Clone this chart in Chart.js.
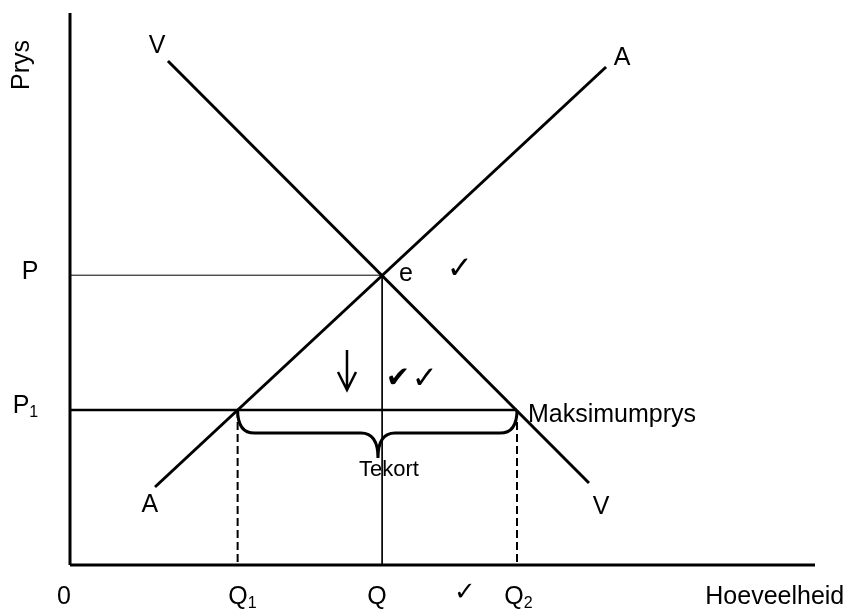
<!DOCTYPE html>
<html>
<head>
<meta charset="utf-8">
<script src="https://cdn.jsdelivr.net/npm/chart.js@4/dist/chart.umd.min.js"></script>
<style>
  body { margin: 0; background: #fff; }
  canvas { display: block; }
</style>
</head>
<body>
<canvas id="chart" width="851" height="609"></canvas>
<script>
// curves (quantity, price)
const demandX = [13.15, 69.66];
const demandY = [91.3, 14.86];
const supplyX = [11.41, 71.95];
const supplyY = [14.13, 90.22];

// equilibrium and price ceiling
const qEq = 41.9;
const pEq = 52.5;
const pMax = 28.1;
const q1 = 22.5;
const q2 = 60;

// shortage brace: top, middle, tip (price) and tip quantity
const braceY = [28.1, 23.9, 19.4];
const braceTip = 41.34;

// tick labels [text, subscript, position]
const xTickLabels = [['0', '', -0.8], ['Q', '1', 22.55], ['Q', '', 41.2], ['\u2713', '', 53.0], ['Q', '2', 59.6], ['Hoeveelheid', '', 94.6]];
const yTickLabels = [['P', '', 53.1], ['P', '1', 28.8]];

// curve labels [text, x, y]
const curveLabels = [['V', 11.7, 94.0], ['A', 74.1, 91.8], ['A', 10.7, 10.9], ['V', 71.3, 10.5], ['e', 45.1, 52.7]];

const FONT = '"Liberation Sans", Arial, sans-serif';
const SYM = '"DejaVu Sans", sans-serif';

const seg = (xs, ys) => xs.map((x, i) => ({x: x, y: ys[i]}));
const lineSet = (data, width, dash) => ({
    data: data,
    showLine: true,
    borderColor: '#000',
    borderWidth: width,
    borderDash: dash || [],
    pointRadius: 0,
    clip: false
});

const labelPlugin = {
    id: 'labels',
    afterDatasetsDraw(chart) {
        const ctx = chart.ctx;
        const xs = chart.scales.x, ys = chart.scales.y;
        const px = v => xs.getPixelForValue(v);
        const py = v => ys.getPixelForValue(v);
        ctx.save();
        ctx.fillStyle = '#000';
        ctx.strokeStyle = '#000';

        // brace under the shortage
        const x1 = px(q1), x2 = px(q2), xt = px(braceTip);
        const yT = py(braceY[0]), yM = py(braceY[1]), yB = py(braceY[2]);
        const r = 17;
        ctx.lineWidth = 3;
        ctx.beginPath();
        ctx.moveTo(x1, yT);
        ctx.quadraticCurveTo(x1, yM, x1 + r, yM);
        ctx.lineTo(xt - r, yM);
        ctx.quadraticCurveTo(xt, yM, xt, yB);
        ctx.quadraticCurveTo(xt, yM, xt + r, yM);
        ctx.lineTo(x2 - r, yM);
        ctx.quadraticCurveTo(x2, yM, x2, yT);
        ctx.stroke();

        // downward arrow
        const ax = px(37.18), aTop = py(38.95), aBot = py(31.7);
        ctx.lineWidth = 2.5;
        ctx.beginPath();
        ctx.moveTo(ax, aTop);
        ctx.lineTo(ax, aBot);
        ctx.moveTo(ax - 9, aBot - 18);
        ctx.lineTo(ax, aBot);
        ctx.lineTo(ax + 9, aBot - 18);
        ctx.stroke();

        ctx.textAlign = 'center';
        ctx.textBaseline = 'middle';
        const sub = (t, s, x, y, size, family) => {
            ctx.font = size + 'px ' + (family || FONT);
            ctx.textAlign = 'center';
            ctx.fillText(t, x, y);
            if (s) {
                const w = ctx.measureText(t).width;
                ctx.font = Math.round(size * 0.62) + 'px ' + FONT;
                ctx.textAlign = 'left';
                ctx.fillText(s, x + w / 2, y + 7);
            }
        };
        xTickLabels.forEach(l => l[0] === '\u2713'
            ? sub(l[0], '', px(l[2]), 593, 26, SYM)
            : sub(l[0], l[1], px(l[2]), 597, 25));
        yTickLabels.forEach(l => sub(l[0], l[1], l[1] ? 21 : 30, py(l[2]), 25));
        curveLabels.forEach(l => sub(l[0], '', px(l[1]), py(l[2]), 25));

        ctx.textAlign = 'left';
        ctx.font = '25px ' + FONT;
        ctx.fillText('Maksimumprys', px(q2) + 11, py(pMax) + 5);
        ctx.textAlign = 'center';
        ctx.font = '22px ' + FONT;
        ctx.fillText('Tekort', px(42.8), py(17.2));
        ctx.font = '31px ' + SYM;
        ctx.fillText('\u2713', px(52.3), py(53.4));
        ctx.font = '29px ' + SYM;
        ctx.fillText('\u2714', px(44.0), py(33.6));
        ctx.font = '31px ' + SYM;
        ctx.fillText('\u2713', px(47.6), py(33.6));

        // axis title
        ctx.translate(22, 65);
        ctx.rotate(-Math.PI / 2);
        ctx.font = '25px ' + FONT;
        ctx.fillText('Prys', 0, 0);
        ctx.restore();
    }
};

new Chart(document.getElementById('chart'), {
    type: 'scatter',
    data: {
        datasets: [
            lineSet(seg([0, 0], [0, 100]), 3),
            lineSet(seg([0, 100], [0, 0]), 3),
            lineSet(seg(demandX, demandY), 3),
            lineSet(seg(supplyX, supplyY), 3),
            lineSet(seg([0, qEq], [pEq, pEq]), 1),
            lineSet(seg([qEq, qEq], [pEq, 0]), 1),
            lineSet(seg([0, q2], [pMax, pMax]), 2.5),
            lineSet(seg([q1, q1], [pMax, 0]), 2, [8, 4]),
            lineSet(seg([q2, q2], [pMax, 0]), 2, [8, 4])
        ]
    },
    options: {
        responsive: false,
        animation: false,
        devicePixelRatio: 1,
        layout: { padding: { left: 70, right: 36, top: 13, bottom: 44 } },
        plugins: { legend: { display: false }, tooltip: { enabled: false } },
        scales: {
            x: { type: 'linear', min: 0, max: 100, display: false },
            y: { type: 'linear', min: 0, max: 100, display: false }
        }
    },
    plugins: [labelPlugin]
});
</script>
</body>
</html>
